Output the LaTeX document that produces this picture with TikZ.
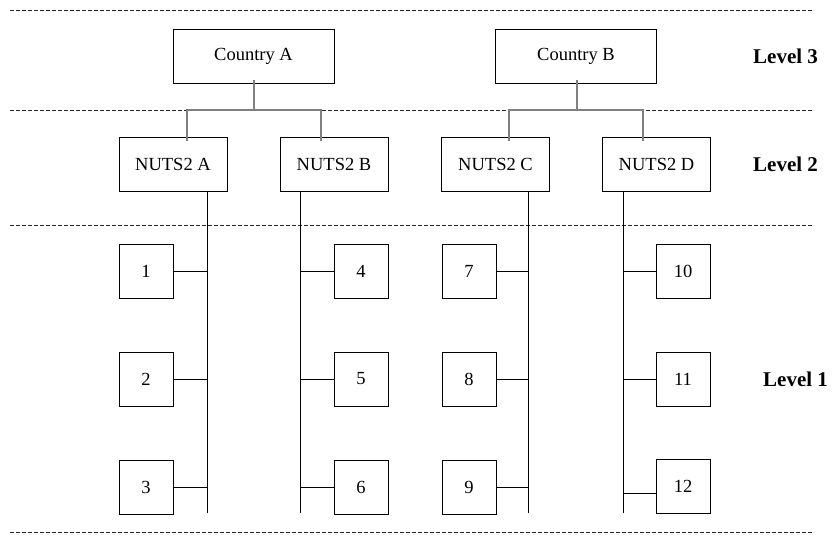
\documentclass[tikz,border=0pt]{standalone}
\usepackage{fontspec}
\setmainfont{Liberation Serif}
\begin{document}
\begin{tikzpicture}[x=1pt,y=-1pt,
  box/.style={draw=black,line width=1pt,inner sep=0pt,font=\fontsize{18.5}{22}\selectfont},
  bigbox/.style={box,minimum width=161pt,minimum height=54pt},
  midbox/.style={box,minimum width=108pt,minimum height=54pt},
  smallbox/.style={box,minimum width=54pt,minimum height=54pt},
  lvl/.style={anchor=west,inner sep=0pt,font=\fontsize{21}{25}\selectfont\bfseries},
  sep/.style={line width=0.9pt,dash pattern=on 3.5pt off 2.5pt,black!85},
  tree/.style={line width=1pt,black},
  up/.style={line width=1.6pt,black!50}]
\useasboundingbox (0,0) rectangle (836,536);
% separators
\coordinate (s1l) at (10,10);   \coordinate (s1r) at (814,10);
\coordinate (s2l) at (10,110);  \coordinate (s2r) at (814,110);
\coordinate (s3l) at (10,225);  \coordinate (s3r) at (814,225);
\coordinate (s4l) at (10,532);  \coordinate (s4r) at (814,532);
\draw[sep] (s1l) -- (s1r);
\draw[sep] (s2l) -- (s2r);
\draw[sep] (s3l) -- (s3r);
\draw[sep] (s4l) -- (s4r);
% level 3
\node[bigbox] (cA) at (253.5,56) {Country A};
\node[bigbox] (cB) at (576,56) {Country B};
% level 2
\node[midbox] (nA) at (173,164) {NUTS2 A};
\node[midbox] (nB) at (334,164) {NUTS2 B};
\node[midbox] (nC) at (495.5,164) {NUTS2 C};
\node[midbox] (nD) at (656.5,164) {NUTS2 D};
% level labels
\node[lvl] (l3) at (753,56) {Level 3};
\node[lvl] (l2) at (753,164) {Level 2};
\node[lvl] (l1) at (763,379) {Level 1};
% gray links country -> NUTS2
\coordinate (jA) at (254,110);
\coordinate (jB) at (577,110);
\draw[up] ([yshift=4pt]cA.south -| jA) -- (jA);
\draw[up] ([yshift=-4pt]nA.north -| 187,0) |- (jA) -| ([yshift=-4pt]nB.north -| 321,0);
\draw[up] ([yshift=4pt]cB.south -| jB) -- (jB);
\draw[up] ([yshift=-4pt]nC.north -| 509,0) |- (jB) -| ([yshift=-4pt]nD.north -| 643,0);
% level 1 boxes
\node[smallbox] (b1) at (146,271) {1};
\node[smallbox] (b2) at (146,379) {2};
\node[smallbox] (b3) at (146,487) {3};
\node[smallbox] (b4) at (361,271) {4};
\node[smallbox] (b5) at (361,379) {5};
\node[smallbox] (b6) at (361,487) {6};
\node[smallbox] (b7) at (469,271) {7};
\node[smallbox] (b8) at (469,379) {8};
\node[smallbox] (b9) at (469,487) {9};
\node[smallbox] (b10) at (683,271) {10};
\node[smallbox] (b11) at (683,379) {11};
\node[smallbox] (b12) at (683,486) {12};
% trunks
\coordinate (tA) at (207,513);
\coordinate (tB) at (300,513);
\coordinate (tC) at (528,513);
\coordinate (tD) at (623,513);
\draw[tree] (nA.south -| tA) -- (tA);
\draw[tree] (nB.south -| tB) -- (tB);
\draw[tree] (nC.south -| tC) -- (tC);
\draw[tree] (nD.south -| tD) -- (tD);
% branches
\draw[tree] (b1.east) -- (b1.east -| tA);
\draw[tree] (b2.east) -- (b2.east -| tA);
\draw[tree] (b3.east) -- (b3.east -| tA);
\draw[tree] (b4.west) -- (b4.west -| tB);
\draw[tree] (b5.west) -- (b5.west -| tB);
\draw[tree] (b6.west) -- (b6.west -| tB);
\draw[tree] (b7.east) -- (b7.east -| tC);
\draw[tree] (b8.east) -- (b8.east -| tC);
\draw[tree] (b9.east) -- (b9.east -| tC);
\draw[tree] (b10.west) -- (b10.west -| tD);
\draw[tree] (b11.west) -- (b11.west -| tD);
\draw[tree] ([yshift=-7pt]b12.west) -- ([yshift=-7pt]b12.west -| tD);
\end{tikzpicture}
\end{document}
